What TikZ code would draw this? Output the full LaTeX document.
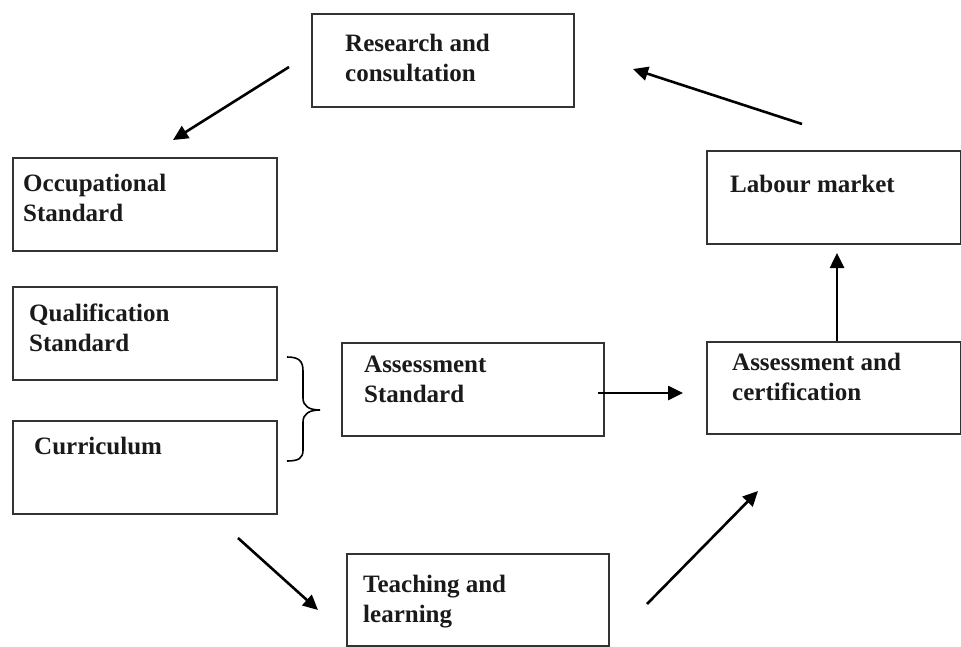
\documentclass[tikz,border=0pt]{standalone}
\usepackage{fontspec}
\setmainfont{Liberation Serif}
\usetikzlibrary{arrows.meta}
\definecolor{boxline}{HTML}{333333}
\definecolor{txt}{HTML}{1A1A1A}
\tikzset{
  box/.style={draw=boxline, line width=2pt, inner sep=0pt, anchor=north west, fill=white},
  lbl/.style={anchor=base west, inner sep=0pt, text=txt, font=\fontsize{25}{30}\selectfont\bfseries},
  conn/.style={line width=2.6pt, -{Triangle[length=15pt,width=14pt]}},
}
\newcommand{\twol}[2]{\begin{tabular}[t]{@{}l@{}}#1\\#2\end{tabular}}
\begin{document}
\begin{tikzpicture}[x=1pt,y=-1pt]
\useasboundingbox (0,0) rectangle (961,646);
% boxes
\node[box, minimum width=262pt, minimum height=93pt] (res) at (311,13) {};
\node[box, minimum width=264pt, minimum height=93pt] (occ) at (12,157) {};
\node[box, minimum width=264pt, minimum height=93pt] (qual) at (12,286) {};
\node[box, minimum width=264pt, minimum height=93pt] (cur) at (12,420) {};
\node[box, minimum width=262pt, minimum height=93pt] (ass) at (341,342) {};
\node[box, minimum width=254pt, minimum height=92pt] (cert) at (706,341) {};
\node[box, minimum width=254pt, minimum height=93pt] (lab) at (706,150) {};
\node[box, minimum width=262pt, minimum height=92pt] (teach) at (346,553) {};
% labels
\node[lbl] (tres) at (345,51) {\twol{Research and}{consultation}};
\node[lbl] (tocc) at (23,191) {\twol{Occupational}{Standard}};
\node[lbl] (tqual) at (29,321) {\twol{Qualification}{Standard}};
\node[lbl] (tcur) at (34,454) {Curriculum};
\node[lbl] (tass) at (364,372) {\twol{Assessment}{Standard}};
\node[lbl] (tcert) at (732,370) {\twol{Assessment and}{certification}};
\node[lbl] (tlab) at (730,192) {Labour market};
\node[lbl] (tteach) at (363,592) {\twol{Teaching and}{learning}};
% brace
\draw[line width=1.6pt, black]
  (287,357) .. controls (299,357) and (303,361) .. (303,371) -- (303,398)
  .. controls (303,406) and (309,410) .. (320,410)
  .. controls (309,410) and (303,414) .. (303,422) -- (303,450)
  .. controls (303,458) and (299,461) .. (287,461);
% connector end points
\coordinate (a1s) at (289,67);  \coordinate (a1e) at (173,140);
\coordinate (a2s) at (802,124); \coordinate (a2e) at (633,69);
\coordinate (a3s) at (238,538); \coordinate (a3e) at (318,610);
\coordinate (a4s) at (647,604); \coordinate (a4e) at (758,491);
\coordinate (a5s) at (598,393); \coordinate (a5e) at (683,393);
\coordinate (a6s) at (837,341); \coordinate (a6e) at (837,253);
\draw[conn] (a1s) -- (a1e);
\draw[conn] (a2s) -- (a2e);
\draw[conn] (a3s) -- (a3e);
\draw[conn] (a4s) -- (a4e);
\draw[conn] (a5s) -- (a5e);
\draw[conn] (a6s) -- (a6e);
\end{tikzpicture}
\end{document}
